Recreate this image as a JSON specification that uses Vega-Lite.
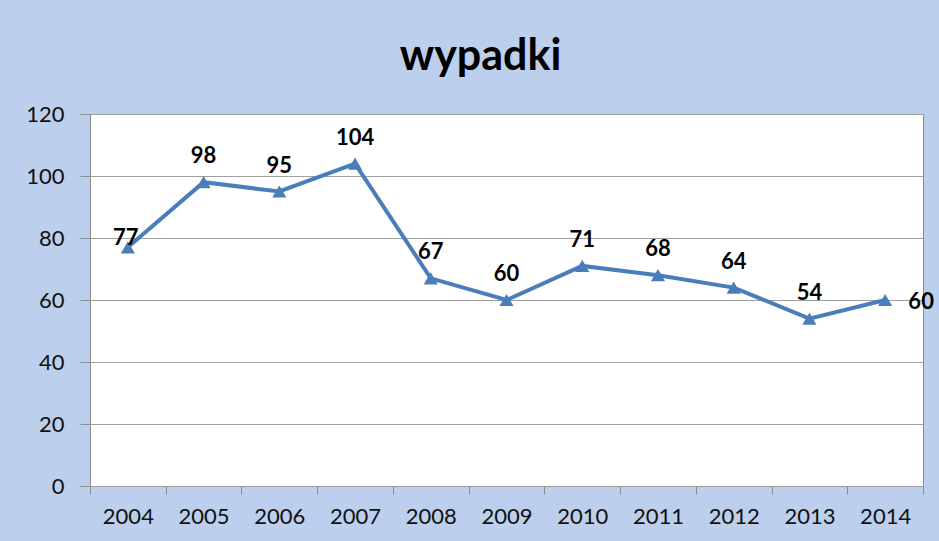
{
  "$schema": "https://vega.github.io/schema/vega-lite/v6.json",
  "width": 833,
  "height": 372,
  "autosize": {"type": "none"},
  "padding": {"left": 90, "top": 114, "right": 16, "bottom": 55},
  "background": "#bccfec",
  "title": {
    "text": "wypadki",
    "font": "Lato",
    "fontSize": 43,
    "fontWeight": "bold",
    "color": "#000000",
    "anchor": "middle",
    "dx": -26,
    "baseline": "alphabetic",
    "offset": -10
  },
  "config": {
    "view": {"fill": "#ffffff", "stroke": "#8c8c8c", "strokeWidth": 1},
    "axis": {
      "labelFont": "Lato",
      "labelFontSize": 22,
      "labelColor": "#111111",
      "domain": false,
      "tickColor": "#8c8c8c",
      "gridColor": "#a0a0a0",
      "title": null
    }
  },
  "data": {
    "values": [
      {"year": "2004", "value": 77},
      {"year": "2005", "value": 98},
      {"year": "2006", "value": 95},
      {"year": "2007", "value": 104},
      {"year": "2008", "value": 67},
      {"year": "2009", "value": 60},
      {"year": "2010", "value": 71},
      {"year": "2011", "value": 68},
      {"year": "2012", "value": 64},
      {"year": "2013", "value": 54},
      {"year": "2014", "value": 60}
    ]
  },
  "encoding": {
    "x": {
      "field": "year",
      "type": "ordinal",
      "scale": {"type": "band", "paddingInner": 0, "paddingOuter": 0},
      "axis": {"labelAngle": 0, "tickBand": "extent", "tickSize": 8, "labelPadding": 12, "grid": false}
    },
    "y": {
      "field": "value",
      "type": "quantitative",
      "scale": {"domain": [0, 120], "nice": false},
      "axis": {"values": [0, 20, 40, 60, 80, 100, 120], "tickSize": 10, "labelPadding": 16, "grid": true}
    }
  },
  "layer": [
    {
      "mark": {
        "type": "line",
        "color": "#4a7ebb",
        "strokeWidth": 4,
        "point": {"filled": true, "shape": "triangle-up", "size": 200, "color": "#4a7ebb"}
      }
    },
    {
      "transform": [{"filter": "datum.year != '2004' && datum.year != '2014'"}],
      "mark": {"type": "text", "font": "Lato", "fontSize": 22, "fontWeight": "bold", "color": "#000000", "baseline": "middle", "dy": -26},
      "encoding": {"text": {"field": "value", "type": "quantitative"}}
    },
    {
      "transform": [{"filter": "datum.year == '2004'"}],
      "mark": {"type": "text", "font": "Lato", "fontSize": 22, "fontWeight": "bold", "color": "#000000", "baseline": "middle", "dy": -9, "dx": -2},
      "encoding": {"text": {"field": "value", "type": "quantitative"}}
    },
    {
      "transform": [{"filter": "datum.year == '2014'"}],
      "mark": {"type": "text", "font": "Lato", "fontSize": 22, "fontWeight": "bold", "color": "#000000", "baseline": "middle", "dy": 2, "dx": 36},
      "encoding": {"text": {"field": "value", "type": "quantitative"}}
    }
  ]
}
